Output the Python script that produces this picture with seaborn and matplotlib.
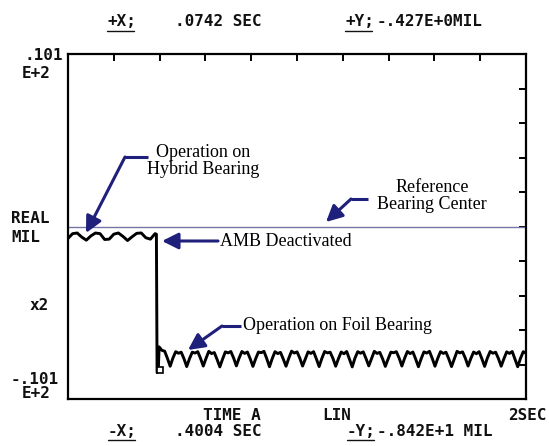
import numpy as np
import pandas as pd
import matplotlib
matplotlib.use("Agg")
import matplotlib.pyplot as plt
from matplotlib.lines import Line2D
import seaborn as sns

# ---------------- data ----------------
# time axis 0..2 s, displacement in mil, axis range +-10.1
x_range = [0.0, 2.0]
y_range = [-10.1, 10.1]
ref_center = 0.0

# operation on hybrid bearing (t = 0 .. 0.38 s)
upper_t_span = [0.0, 0.38]
upper_vals = [-0.70, -0.42, -0.38, -0.62, -0.80, -0.55, -0.38, -0.42, -0.76, -0.74,
              -0.45, -0.38, -0.58, -0.82, -0.60, -0.40, -0.38, -0.66, -0.74, -0.42]

# AMB deactivated: drop
drop_t = [0.386, 0.389, 0.394]
drop_vals = [-0.45, -8.55, -8.50]

# operation on foil bearing (t = 0.398 .. 2.0 s)
lower_t_span = [0.398, 2.0]
lower_vals = [
    -7.05, -7.25, -7.30, -7.72, -8.18, -7.70,
    -7.33, -7.42, -7.36, -7.74, -8.20, -7.74,
    -7.36, -7.41, -7.33, -7.72, -8.17, -7.72,
    -7.31, -7.44, -7.38, -7.78, -8.22, -7.76,
    -7.34, -7.40, -7.32, -7.70, -8.16, -7.70,
    -7.32, -7.43, -7.35, -7.74, -8.19, -7.74,
    -7.35, -7.39, -7.31, -7.73, -8.21, -7.73,
    -7.33, -7.44, -7.37, -7.76, -8.18, -7.71,
    -7.30, -7.41, -7.34, -7.71, -8.17, -7.75,
    -7.34, -7.43, -7.33, -7.75, -8.20, -7.72,
    -7.32, -7.40, -7.36, -7.72, -8.18, -7.74,
    -7.35, -7.45, -7.32, -7.77, -8.22, -7.70,
    -7.33, -7.42, -7.34, -7.73, -8.16, -7.73,
    -7.31, -7.43, -7.37, -7.74, -8.19, -7.76,
    -7.36, -7.39, -7.33, -7.70, -8.17, -7.71,
    -7.32, -7.44, -7.35, -7.76, -8.21, -7.74,
    -7.34, -7.41, -7.31, -7.72, -8.18, -7.72,
    -7.33, -7.43, -7.36, -7.75, -8.20, -7.75,
    -7.31, -7.40, -7.34, -7.71, -8.17, -7.73,
    -7.35, -7.45, -7.33, -7.74, -8.19, -7.70,
    -7.32, -7.42, -7.36, -7.73, -8.18, -7.74,
    -7.34, -7.43, -7.32, -7.76, -8.21, -7.72,
    -7.33, -7.42]

cursor_x = 0.4004
cursor_y = -8.42

top_readout = ["+X;", ".0742 SEC", "+Y;", "-.427E+0MIL"]
bottom_readout = ["-X;", ".4004 SEC", "-Y;", "-.842E+1 MIL"]
y_top_label = [".101", "E+2"]
y_bot_label = ["-.101", "E+2"]
y_mid_label = ["REAL", "MIL"]
scale_label = "x2"
x_labels = ["TIME A", "LIN", "2SEC"]

# ---------------- build table ----------------
t_all = np.concatenate([np.linspace(*upper_t_span, len(upper_vals)),
                        np.array(drop_t),
                        np.linspace(*lower_t_span, len(lower_vals))])
v_all = np.concatenate([upper_vals, drop_vals, lower_vals])
df = pd.DataFrame({"t": t_all, "mil": v_all})

# ---------------- figure ----------------
sns.set_style("white")
plt.rcParams['font.family'] = ['DejaVu Sans Mono', 'DejaVu Sans']

W, H = 549, 446
fig = plt.figure(figsize=(W / 100, H / 100), dpi=100)
ax = fig.add_axes([68 / W, 1 - 399 / H, 458 / W, 345 / H])

def fx(x):
    return x / W

def fy(y):
    return 1 - y / H

ax.axhline(ref_center, color="#7676a6", lw=1.0, zorder=1)
sns.lineplot(data=df, x="t", y="mil", sort=False, estimator=None,
             color="black", lw=2.1, ax=ax, zorder=3,
             solid_joinstyle="round", solid_capstyle="round")
ax.plot([cursor_x], [cursor_y], marker="s", ms=5, mfc="white", mec="black",
        mew=1.2, zorder=4)

ax.set_xlim(*x_range)
ax.set_ylim(*y_range)
ax.set_xticks(np.linspace(x_range[0], x_range[1], 11))
ax.set_yticks(np.linspace(y_range[0], y_range[1], 11))
ax.tick_params(direction="in", length=5, width=1.4, top=True, right=True,
               labelbottom=False, labelleft=False, colors="black")
for s in ax.spines.values():
    s.set_color("black")
    s.set_linewidth(1.6)
ax.set_xlabel("")
ax.set_ylabel("")

mono = dict(fontsize=11.5, color="#111111", family="DejaVu Sans Mono",
            fontweight="bold")

# left axis labels
fig.text(fx(24), fy(55), y_top_label[0], ha="left", va="center", **mono)
fig.text(fx(22), fy(73), y_top_label[1], ha="left", va="center", **mono)
fig.text(fx(11), fy(218), y_mid_label[0], ha="left", va="center", **mono)
fig.text(fx(11), fy(237), y_mid_label[1], ha="left", va="center", **mono)
fig.text(fx(30), fy(306), scale_label, ha="left", va="center", **mono)
fig.text(fx(11), fy(379), y_bot_label[0], ha="left", va="center", **mono)
fig.text(fx(22), fy(394), y_bot_label[1], ha="left", va="center", **mono)

# bottom labels
fig.text(fx(203), fy(416), x_labels[0], ha="left", va="center", **mono)
fig.text(fx(322), fy(415), x_labels[1], ha="left", va="center", **mono)
fig.text(fx(547), fy(415), x_labels[2], ha="right", va="center", **mono)

# readouts
def readout(items, xs, y, ul_y):
    for txt, x in zip(items, xs):
        fig.text(fx(x), fy(y), txt, ha="left", va="center", **mono)
    for x0 in (xs[0], xs[2]):
        fig.add_artist(Line2D([fx(x0), fx(x0 + 27)], [fy(ul_y), fy(ul_y)],
                              color="#111111", lw=1.0))

readout(top_readout, [107, 175, 345, 377], 22, 31)
readout(bottom_readout, [108, 175, 347, 377], 431, 440)

# annotations
navy = "#1f1f7c"
serif = dict(fontsize=13, color="black", family="Liberation Serif")
arrow = dict(arrowstyle="-|>,head_length=0.7,head_width=0.35", color=navy, lw=2.2,
             shrinkA=0, shrinkB=0, mutation_scale=14)

def elbow_arrow(start, elbow, tip):
    if elbow is not None:
        fig.add_artist(Line2D([fx(start[0]), fx(elbow[0])], [fy(start[1]), fy(elbow[1])],
                              color=navy, lw=2.2, solid_capstyle="butt"))
        src = elbow
    else:
        src = start
    ax.annotate("", xy=(tip[0], H - tip[1]), xycoords="figure pixels",
                xytext=(src[0], H - src[1]), textcoords="figure pixels",
                arrowprops=arrow)

fig.text(fx(203), fy(161), "Operation on\nHybrid Bearing", ha="center", va="center",
         linespacing=1.0, **serif)
elbow_arrow((148, 157), (125, 157), (86, 233))

fig.text(fx(432), fy(196), "Reference\nBearing Center", ha="center", va="center",
         linespacing=1.0, **serif)
elbow_arrow((368, 199), (351, 199), (326, 222))

fig.text(fx(220), fy(241), "AMB Deactivated", ha="left", va="center", **serif)
elbow_arrow((218, 241), None, (162, 241))

fig.text(fx(243), fy(326), "Operation on Foil Bearing", ha="left", va="center", **serif)
elbow_arrow((241, 326), (222, 326), (188, 350))

fig.savefig("out.png", dpi=100)
